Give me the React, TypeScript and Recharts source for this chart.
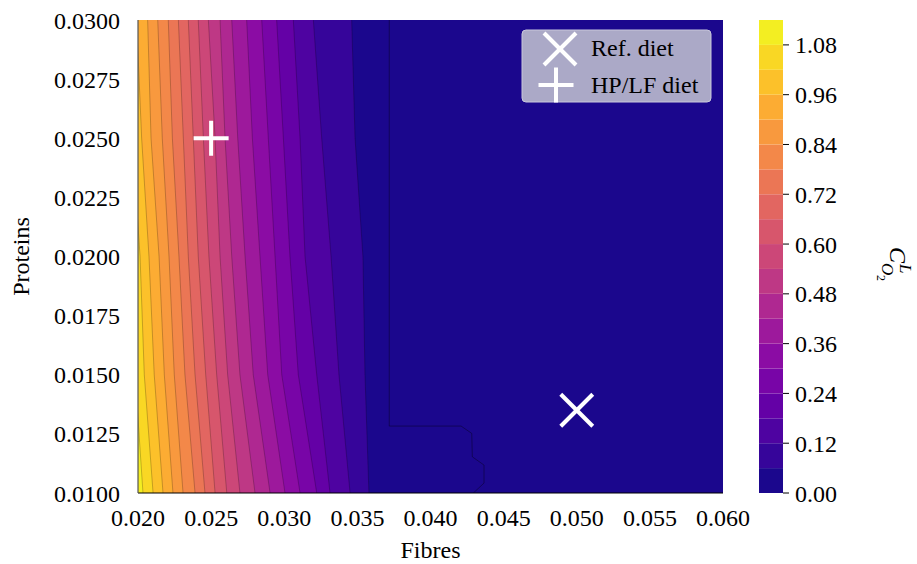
import React from 'react';
import {
  ComposedChart,
  Area,
  Line,
  XAxis,
  YAxis,
  CartesianGrid,
  ReferenceDot,
  BarChart,
  Bar,
} from 'recharts';

// contour levels of C^L_O2 and the colour of each filled band (plasma)
const levels = [0, 0.06, 0.12, 0.18, 0.24, 0.3, 0.36, 0.42, 0.48, 0.54, 0.6, 0.66, 0.72, 0.78, 0.84, 0.9, 0.96, 1.02, 1.08, 1.14];
const bandColors = [
  '#1b078d', '#36059a', '#4e03a1', '#6401a6', '#7805a7', '#8b0ca4', '#9d199c', '#af2891',
  '#be3885', '#cc4778', '#d7566c', '#e26661', '#eb7655', '#f38849', '#f8993e', '#fcac33',
  '#fcc12a', '#f9d724', '#f3ee22',
];

// protein values at which the contour lines were read
const proteinRows = [0.01, 0.015, 0.02, 0.025, 0.03];
// fibre position of contour line k (levels[1]..levels[18]) at each protein row
const xAt0100 = [0.03579, 0.0345, 0.03313, 0.03222, 0.03108, 0.03005, 0.02903, 0.028, 0.02697, 0.02607, 0.02527, 0.02458, 0.0239, 0.02308, 0.02239, 0.02171, 0.02103, 0.02034];
const xAt0150 = [0.03552, 0.03374, 0.03222, 0.03096, 0.02983, 0.02887, 0.02788, 0.02697, 0.02613, 0.02538, 0.02463, 0.0239, 0.02321, 0.02248, 0.0218, 0.02111, 0.02043, 0.0198];
const xAt0200 = [0.03538, 0.0332, 0.03142, 0.03039, 0.02937, 0.02834, 0.02732, 0.02641, 0.02561, 0.02485, 0.02412, 0.02344, 0.0228, 0.02212, 0.02144, 0.02075, 0.02014, 0.0195];
const xAt0250 = [0.03484, 0.03256, 0.03108, 0.02994, 0.02891, 0.02782, 0.02682, 0.02595, 0.02527, 0.02447, 0.02378, 0.0231, 0.02235, 0.02166, 0.02089, 0.02025, 0.0196, 0.0189];
const xAt0300 = [0.03461, 0.03199, 0.03062, 0.02948, 0.02846, 0.02743, 0.02641, 0.02561, 0.02481, 0.02412, 0.02344, 0.02276, 0.02207, 0.02135, 0.02066, 0.0199, 0.0193, 0.0186];

// thin contour line inside the lowest band
const innerContour = [
  { p: 0.03, f: 0.03718 },
  { p: 0.01283, f: 0.03718 },
  { p: 0.01283, f: 0.04209 },
  { p: 0.01252, f: 0.04282 },
  { p: 0.01153, f: 0.04286 },
  { p: 0.01118, f: 0.04366 },
  { p: 0.01042, f: 0.04366 },
  { p: 0.01, f: 0.04293 },
];

const refDiet = { f: 0.05, p: 0.0135 };
const hplfDiet = { f: 0.025, p: 0.025 };

const fibreTicks = [0.02, 0.025, 0.03, 0.035, 0.04, 0.045, 0.05, 0.055, 0.06];
const proteinTicks = [0.01, 0.0125, 0.015, 0.0175, 0.02, 0.0225, 0.025, 0.0275, 0.03];
const colorbarTicks = [0, 0.12, 0.24, 0.36, 0.48, 0.6, 0.72, 0.84, 0.96, 1.08];

const rowsByProtein = [xAt0100, xAt0150, xAt0200, xAt0250, xAt0300];
const contourTable = proteinRows.map((p, i) => {
  const row: Record<string, number> = { p };
  rowsByProtein[i].forEach((x, k) => {
    row['c' + (k + 1)] = x;
  });
  return row;
});

const colorbarRow: Record<string, number | string> = { name: 'cb' };
for (let i = 0; i < levels.length - 1; i++) colorbarRow['b' + i] = levels[i + 1] - levels[i];

const FONT = '"Liberation Serif", "Times New Roman", serif';

const XMark = (props: any) => {
  const { cx, cy } = props;
  const s = 16;
  return (
    <g stroke="#ffffff" strokeWidth={4}>
      <line x1={cx - s} y1={cy - s} x2={cx + s} y2={cy + s} />
      <line x1={cx - s} y1={cy + s} x2={cx + s} y2={cy - s} />
    </g>
  );
};

const PlusMark = (props: any) => {
  const { cx, cy } = props;
  const s = 17.5;
  return (
    <g stroke="#ffffff" strokeWidth={4}>
      <line x1={cx - s} y1={cy} x2={cx + s} y2={cy} />
      <line x1={cx} y1={cy - s} x2={cx} y2={cy + s} />
    </g>
  );
};

const tickStyle = { fontFamily: FONT, fontSize: 24, fill: '#000' };

export default function App() {
  return (
    <div style={{ position: 'absolute', left: 0, top: 0, width: 917, height: 564, background: '#fff' }}>
      <div style={{ position: 'absolute', left: 0, top: 0 }}>
        <ComposedChart
          width={917}
          height={564}
          data={contourTable}
          layout="vertical"
          margin={{ top: 20, right: 194, bottom: 0, left: 0 }}
        >
          <CartesianGrid horizontal={false} vertical={false} fill={bandColors[0]} stroke="none" />
          <XAxis
            type="number"
            domain={[0.02, 0.06]}
            ticks={fibreTicks}
            allowDataOverflow
            height={71}
            tickFormatter={(v: number) => v.toFixed(3)}
            tick={tickStyle}
            tickSize={0}
            tickMargin={16}
            axisLine={{ stroke: '#000', strokeWidth: 1.2 }}
            tickLine={false}
            label={{ value: 'Fibres', position: 'insideBottom', offset: 6, style: { fontFamily: FONT, fontSize: 24, fill: '#000' } }}
          />
          <YAxis
            type="number"
            dataKey="p"
            domain={[0.01, 0.03]}
            ticks={proteinTicks}
            reversed
            allowDataOverflow
            width={138}
            tickFormatter={(v: number) => v.toFixed(4)}
            tick={tickStyle}
            tickSize={0}
            tickMargin={18}
            axisLine={{ stroke: '#555', strokeWidth: 1.2 }}
            tickLine={false}
            label={{ value: 'Proteins', angle: -90, position: 'insideLeft', offset: 20, style: { fontFamily: FONT, fontSize: 24, fill: '#000', textAnchor: 'middle' } }}
          />
          {bandColors.slice(1).map((c, i) => (
            <Area
              key={'c' + (i + 1)}
              dataKey={'c' + (i + 1)}
              type="linear"
              baseValue={0.02}
              fill={c}
              fillOpacity={1}
              stroke="rgba(0,0,0,0.28)"
              strokeWidth={0.8}
              dot={false}
              activeDot={false}
              isAnimationActive={false}
            />
          ))}
          <Line
            data={innerContour}
            dataKey="f"
            type="linear"
            stroke="rgba(0,0,0,0.45)"
            strokeWidth={0.8}
            dot={false}
            activeDot={false}
            isAnimationActive={false}
          />
          <ReferenceDot x={refDiet.f} y={refDiet.p} r={16} shape={XMark} />
          <ReferenceDot x={hplfDiet.f} y={hplfDiet.p} r={17} shape={PlusMark} />
        </ComposedChart>
      </div>
      <svg style={{ position: 'absolute', left: 521, top: 29 }} width={192} height={74}>
        <rect x={1} y={1} width={189} height={72} rx={4} ry={4} fill="#aba9c7" stroke="#c9c8dc" strokeWidth={1} />
        <XMark cx={39} cy={20} />
        <PlusMark cx={35} cy={56} />
        <text x={70} y={27} fontFamily={FONT} fontSize={24} fill="#000">Ref. diet</text>
        <text x={70} y={64} fontFamily={FONT} fontSize={24} fill="#000">HP/LF diet</text>
      </svg>
      <div style={{ position: 'absolute', left: 759, top: 0 }}>
        <BarChart width={110} height={564} data={[colorbarRow]} margin={{ top: 20, right: 0, bottom: 71, left: 0 }} barCategoryGap={0}>
          <XAxis dataKey="name" hide />
          <YAxis
            orientation="right"
            type="number"
            domain={[0, 1.14]}
            allowDataOverflow
            ticks={colorbarTicks}
            width={86}
            tickFormatter={(v: number) => v.toFixed(2)}
            tick={tickStyle}
            tickSize={6}
            tickMargin={6}
            axisLine={false}
            tickLine={{ stroke: '#000' }}
          />
          {bandColors.map((c, i) => (
            <Bar key={'b' + i} dataKey={'b' + i} stackId="cb" fill={c} isAnimationActive={false} />
          ))}
        </BarChart>
      </div>
      <svg style={{ position: 'absolute', left: 850, top: 231 }} width={67} height={100}>
        <g transform="rotate(90, 40, 28)" fontFamily={FONT} fill="#000">
          <text x={28} y={28} fontSize={24} fontStyle="italic">C</text>
          <text x={45} y={18} fontSize={17} fontStyle="italic">L</text>
          <text x={44} y={36} fontSize={17} fontStyle="italic">O</text>
          <text x={56} y={41} fontSize={12}>2</text>
        </g>
      </svg>
    </div>
  );
}
